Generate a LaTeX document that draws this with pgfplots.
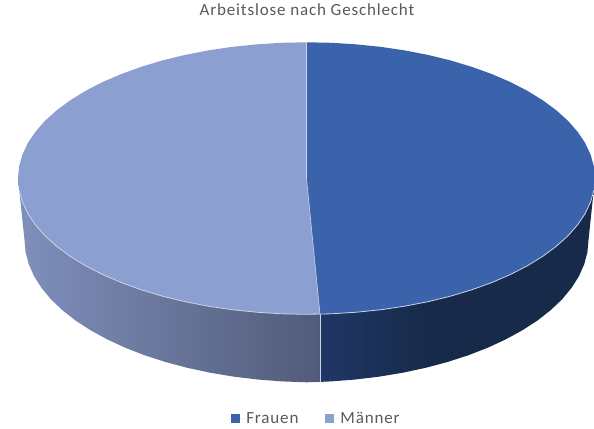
\documentclass[border=0pt]{standalone}
\usepackage{fontspec}
\setmainfont[LetterSpace=5]{Carlito}
\usepackage{pgfplots}
\pgfplotsset{compat=1.18}
\definecolor{frauen}{HTML}{3A63AC}
\definecolor{maenner}{HTML}{8C9FD1}
\definecolor{sideA}{HTML}{8090BC}
\definecolor{sideB}{HTML}{515B79}
\definecolor{sep}{HTML}{CBD3E6}
\definecolor{txt}{HTML}{595959}
% side shading, dark part of the right one stays flat
\pgfdeclarehorizontalshading{sideR}{100bp}{rgb(0bp)=(0.125,0.215,0.40); rgb(25bp)=(0.125,0.215,0.40); rgb(45bp)=(0.09,0.165,0.29); rgb(100bp)=(0.09,0.165,0.29)}
\begin{document}
\begin{tikzpicture}
\begin{axis}[
    width=594pt, height=426pt, scale only axis,
    xmin=0, xmax=594, ymin=0, ymax=426, y dir=reverse,
    hide axis,
    title={\fontsize{17}{19}\selectfont\color{txt}Arbeitslose nach Geschlecht},
    title style={at={(axis cs:307,14)}, anchor=center},
    legend columns=2,
    legend style={at={(axis cs:316.5,417)}, anchor=center, draw=none, fill=none,
        font=\fontsize{17}{19}\selectfont\color{txt},
        /tikz/every even column/.append style={column sep=25pt}},
    legend image code/.code={\fill[#1,draw=none] (0cm,-4.5pt) rectangle (9pt,4.5pt);
        \path (0pt,0pt) -- (13pt,0pt);},
]
% keeps the page as large as the axis
\addplot[forget plot, draw=none, mark=none] coordinates {(0,0)(594,426)};
% sides
\addplot[forget plot, mark=none, draw=none, left color=sideA, right color=sideB] coordinates {
    (320,380.6)(306.5,381)(281.9,380.1)(257.5,378.2)(233.5,375.3)(210.1,371.4)(187.3,366.5)
    (165.5,360.7)(144.8,354)(125.2,346.4)(107.1,338)(90.5,328.9)(75.5,319.2)(62.3,308.8)
    (50.9,298)(41.5,286.6)(34.1,275)(28.8,263)(25.6,251)(24.5,238.7)(18,177)(320,177)
} --cycle;
\addplot[forget plot, mark=none, draw=none, shading=sideR] coordinates {
    (320,380.6)(331.1,380.1)(355.5,378.2)(379.5,375.3)(402.9,371.4)(425.7,366.5)
    (447.5,360.7)(468.2,354)(487.8,346.4)(505.9,338)(522.5,328.9)(537.5,319.2)(550.7,308.8)
    (562.1,298)(571.5,286.6)(578.9,275)(584.2,263)(587.4,251)(588.5,238.7)(595,177)(320,177)
} --cycle;
\addplot[forget plot, mark=none, draw=sep, line width=0.8pt] coordinates {(320,312.9)(320,381)};
% top slices
\addplot[mark=none, draw=none, fill=frauen] coordinates {
    (306.5,41)(331.6,41.5)(356.6,43.1)(381.2,45.6)(405.2,49.2)(428.4,53.7)(450.8,59.2)
    (472,65.6)(491.9,72.8)(510.5,80.8)(527.5,89.6)(542.8,99)(556.3,109)(568,119.5)
    (577.6,130.5)(585.2,141.8)(590.6,153.4)(593.9,165.1)(595,177)(593.9,188.9)(590.6,200.6)
    (585.2,212.2)(577.6,223.5)(568,234.5)(556.3,245)(542.8,255)(527.5,264.4)(510.5,273.2)
    (491.9,281.2)(472,288.4)(450.8,294.8)(428.4,300.3)(405.2,304.8)(381.2,308.4)(356.6,310.9)
    (331.6,312.5)(320,312.9)(306.5,177)
} --cycle;
\addlegendentry{Frauen}
\addplot[mark=none, draw=none, fill=maenner] coordinates {
    (306.5,41)(306.5,177)(320,312.9)(306.5,313)(281.4,312.5)(256.4,310.9)(231.8,308.4)
    (207.8,304.8)(184.6,300.3)(162.2,294.8)(141,288.4)(121.1,281.2)(102.5,273.2)(85.5,264.4)
    (70.2,255)(56.7,245)(45,234.5)(35.4,223.5)(27.8,212.2)(22.4,200.6)(19.1,188.9)(18,177)
    (19.1,165.1)(22.4,153.4)(27.8,141.8)(35.4,130.5)(45,119.5)(56.7,109)(70.2,99)(85.5,89.6)
    (102.5,80.8)(121.1,72.8)(141,65.6)(162.2,59.2)(184.6,53.7)(207.8,49.2)(231.8,45.6)
    (256.4,43.1)(281.4,41.5)
} --cycle;
\addlegendentry{Männer}
% divider on the top and the light rim along the front
\addplot[forget plot, mark=none, draw=sep, line width=0.6pt] coordinates {(306.5,41)(306.5,177)(320,312.9)};
\addplot[forget plot, mark=none, draw=sep, line width=0.8pt] coordinates {
    (19.1,188.9)(22.4,200.6)(27.8,212.2)(35.4,223.5)(45,234.5)(56.7,245)(70.2,255)(85.5,264.4)
    (102.5,273.2)(121.1,281.2)(141,288.4)(162.2,294.8)(184.6,300.3)(207.8,304.8)(231.8,308.4)
    (256.4,310.9)(281.4,312.5)(306.5,313)(331.6,312.5)(356.6,310.9)(381.2,308.4)(405.2,304.8)
    (428.4,300.3)(450.8,294.8)(472,288.4)(491.9,281.2)(510.5,273.2)(527.5,264.4)(542.8,255)
    (556.3,245)(568,234.5)(577.6,223.5)(585.2,212.2)(590.6,200.6)(593.9,188.9)
};
\end{axis}
\end{tikzpicture}
\end{document}
